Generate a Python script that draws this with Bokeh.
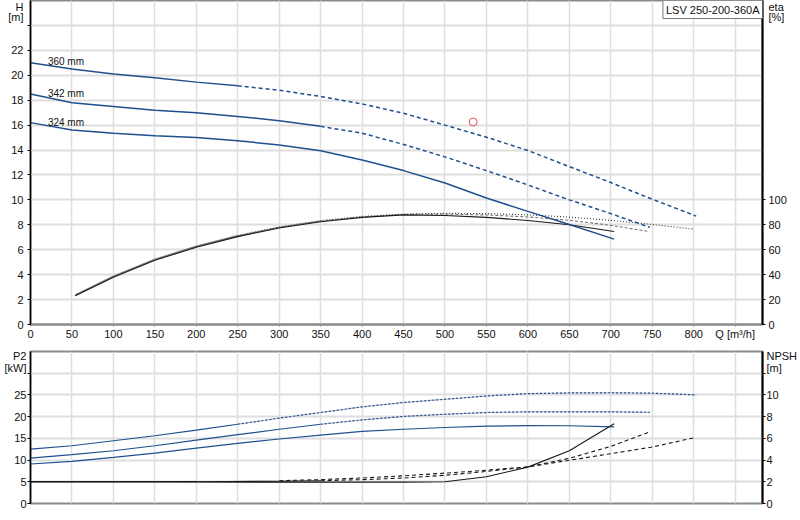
import numpy as np
from bokeh.plotting import figure
from bokeh.models import Range1d, LinearAxis, FixedTicker, Label, Grid
from bokeh.layouts import column
from bokeh.core.properties import value
from bokeh.embed import file_html
from bokeh.resources import INLINE

# ---------------- data ----------------
title_text = "LSV 250-200-360A"
diam_labels = ["360 mm", "342 mm", "324 mm"]
solid_until = [250, 350, 704]          # Q where the solid (allowed) part of each curve ends

q_h360 = [0, 50, 100, 150, 200, 250, 300, 350, 400, 450, 500, 550, 600, 650, 700, 750, 803]
h360 = [21.0, 20.5, 20.1, 19.8, 19.45, 19.15, 18.8, 18.3, 17.7, 16.95, 16.0, 15.03, 13.96, 12.67, 11.39, 10.05, 8.7]
q_h342 = [0, 50, 100, 150, 200, 250, 300, 350, 400, 450, 500, 550, 600, 650, 700, 747]
h342 = [18.5, 17.8, 17.5, 17.2, 17.0, 16.7, 16.35, 15.9, 15.35, 14.45, 13.45, 12.35, 11.2, 10.0, 8.9, 7.8]
q_h324 = [0, 50, 100, 150, 200, 250, 300, 350, 400, 450, 500, 550, 600, 650, 704]
h324 = [16.2, 15.6, 15.35, 15.15, 15.0, 14.75, 14.4, 13.95, 13.2, 12.35, 11.36, 10.15, 9.08, 8.02, 6.85]

q_eta360 = [54, 100, 150, 200, 250, 300, 350, 400, 450, 500, 550, 600, 650, 700, 750, 800]
eta360 = [23.8, 39.0, 52.5, 63.0, 71.5, 78.3, 83.4, 86.7, 88.6, 89.2, 89.0, 88.0, 86.2, 83.6, 80.3, 76.5]
q_eta342 = [54, 100, 150, 200, 250, 300, 350, 400, 450, 500, 550, 600, 650, 700, 746]
eta342 = [23.5, 38.5, 52.0, 62.5, 71.0, 78.0, 83.0, 86.4, 88.3, 88.6, 87.9, 86.3, 83.6, 79.6, 74.6]
q_eta324 = [54, 100, 150, 200, 250, 300, 350, 400, 450, 500, 550, 600, 650, 704]
eta324 = [23.0, 38.0, 51.5, 62.0, 70.5, 77.5, 82.5, 86.0, 88.0, 87.5, 86.0, 83.5, 80.0, 74.6]

q_p360 = [0, 50, 100, 150, 200, 250, 300, 350, 400, 450, 500, 550, 600, 650, 700, 750, 803]
p360 = [12.5, 13.3, 14.45, 15.6, 16.9, 18.25, 19.65, 20.95, 22.25, 23.25, 24.0, 24.75, 25.3, 25.45, 25.5, 25.4, 25.0]
q_p342 = [0, 50, 100, 150, 200, 250, 300, 350, 400, 450, 500, 550, 600, 650, 700, 747]
p342 = [10.45, 11.25, 12.15, 13.3, 14.6, 15.85, 17.1, 18.25, 19.25, 20.05, 20.55, 20.95, 21.1, 21.1, 21.1, 21.0]
q_p324 = [0, 50, 100, 150, 200, 250, 300, 350, 400, 450, 500, 550, 600, 650, 704]
p324 = [9.1, 9.7, 10.6, 11.6, 12.75, 13.85, 14.85, 15.75, 16.6, 17.1, 17.5, 17.8, 17.95, 17.9, 17.65]

q_n360 = [0, 100, 200, 300, 350, 400, 450, 500, 550, 600, 650, 700, 750, 803]
n360 = [2.0, 2.0, 2.02, 2.1, 2.2, 2.35, 2.55, 2.8, 3.07, 3.37, 3.98, 4.59, 5.2, 6.1]
q_n342 = [0, 100, 200, 300, 350, 400, 450, 500, 550, 600, 650, 700, 747]
n342 = [2.0, 2.0, 2.0, 2.05, 2.1, 2.2, 2.34, 2.6, 2.95, 3.37, 4.16, 5.26, 6.6]
q_n324 = [0, 100, 200, 300, 400, 450, 500, 550, 600, 650, 704]
n324 = [2.0, 2.0, 1.98, 1.97, 1.97, 1.97, 2.0, 2.46, 3.35, 4.85, 7.35]

duty_q = [534]
duty_h = [16.25]

q_ticks = list(range(0, 851, 50))
h_ticks = list(range(0, 25, 2))
eta_ticks = list(range(0, 101, 20))
p_ticks = list(range(0, 31, 5))
npsh_ticks = list(range(0, 13, 2))

# ---------------- style ----------------
FONT = "Liberation Sans"
BLUE = "#1f4f8f"
GRID = "#dedede"
Q_MAX, H_MAX, ETA_MAX, P_MAX, N_MAX = 883, 26, 260, 35, 14
BL, FW, BR = 30, 733, 37
W = BL + FW + BR
TOP_FH, TOP_BB = 325, 17
BOT_BT, BOT_FH, BOT_BB = 9, 152, 15


def split(q, v, lim):
    a = [(x, y) for x, y in zip(q, v) if x <= lim]
    b = [(x, y) for x, y in zip(q, v) if x >= lim]
    return ([t[0] for t in a], [t[1] for t in a]), ([t[0] for t in b], [t[1] for t in b])


def style_axis(ax, color="black", width=1.5, standoff=3):
    ax.axis_line_color = color
    ax.axis_line_width = width
    ax.major_tick_line_color = color
    ax.major_tick_in = 0
    ax.major_tick_out = 3
    ax.minor_tick_line_color = None
    ax.major_label_text_font = FONT
    ax.major_label_text_font_size = "11px"
    ax.major_label_text_color = "#111111"
    ax.major_label_standoff = standoff


def value_axis(ax, ticks, unit_labels, vmax, fh, standoff, width):
    """Ticks with labels, plus two unit texts (name, unit) placed near the top of the axis."""
    (name, off1), (unit, off2) = unit_labels
    y1 = vmax - off1 * vmax / fh
    y2 = vmax - off2 * vmax / fh
    step = ticks[1] - ticks[0]
    labelled = [t for t in ticks if t < y2 - 0.5 * step]
    ax.ticker = FixedTicker(ticks=labelled + [y2, y1], minor_ticks=ticks)
    ax.major_label_overrides = {y1: name, y2: unit}
    style_axis(ax, "black", width, standoff)
    ax.major_tick_line_color = None
    ax.minor_tick_line_color = "black"
    ax.minor_tick_in = 0
    ax.minor_tick_out = 3


# ---------------- top: H / eta ----------------
p1 = figure(width=W, height=TOP_FH + TOP_BB, x_range=Range1d(0, Q_MAX), y_range=Range1d(0, H_MAX),
            min_border_left=BL, min_border_right=BR, min_border_top=0, min_border_bottom=TOP_BB,
            output_backend="svg", toolbar_location=None)
p1.extra_y_ranges = {"eta": Range1d(0, ETA_MAX)}
p1.outline_line_color = "#8a8a8a"
p1.outline_line_width = 2
p1.background_fill_color = "white"
p1.border_fill_color = "white"

p1.xaxis.ticker = FixedTicker(ticks=q_ticks)
p1.xaxis.major_label_overrides = {850: "Q [m³/h]"}
style_axis(p1.xaxis[0], "#8a8a8a", 2, 1)
p1.xaxis.major_tick_out = 2

value_axis(p1.yaxis[0], h_ticks, [("H", 6.5), ("[m]", 17)], H_MAX, TOP_FH, 4, 1.5)

eta_axis = LinearAxis(y_range_name="eta")
value_axis(eta_axis, eta_ticks, [("eta", 6.5), ("[%]", 17)], ETA_MAX, TOP_FH, 3, 2)
p1.add_layout(eta_axis, "right")

p1.xgrid.ticker = FixedTicker(ticks=q_ticks[1:])
p1.ygrid.ticker = FixedTicker(ticks=h_ticks[1:])
p1.xgrid.grid_line_color = GRID
p1.xgrid.grid_line_width = 1.5
p1.ygrid.grid_line_color = GRID
p1.ygrid.grid_line_width = 2

# efficiency curves
eta_sets = [(q_eta360, eta360, solid_until[0], "#9a9a9a", "#333333", "1 2"),
            (q_eta342, eta342, solid_until[1], "#707070", "#777777", "3 2"),
            (q_eta324, eta324, solid_until[2], "#1a1a1a", "#1a1a1a", "")]
for q, e, lim, c1, c2, dash in eta_sets:
    (qa, ea), (qb, eb) = split(q, e, lim)
    p1.line(qa, ea, y_range_name="eta", line_color=c1, line_width=1.1)
    if len(qb) > 1:
        p1.line(qb, eb, y_range_name="eta", line_color=c2, line_width=1.1, line_dash=dash)

# H curves
for q, h, lim, lab in [(q_h360, h360, solid_until[0], diam_labels[0]),
                       (q_h342, h342, solid_until[1], diam_labels[1]),
                       (q_h324, h324, solid_until[2], diam_labels[2])]:
    (qa, ha), (qb, hb) = split(q, h, lim)
    p1.line(qa, ha, line_color=BLUE, line_width=1.5)
    if len(qb) > 1:
        p1.line(qb, hb, line_color=BLUE, line_width=1.5, line_dash="4 3")
    p1.text(x=[21], y=[float(np.interp(21, q, h)) + 0.3], text=[lab], text_font=value(FONT),
            text_font_size="10px", text_color="#111111", text_baseline="middle", text_align="left")

p1.scatter(duty_q, duty_h, marker="circle", size=8, fill_color=None, line_color="#e8505b", line_width=1)

p1.add_layout(Label(x=Q_MAX, y=H_MAX, text=title_text, text_font=FONT, text_font_size="11px",
                    text_color="#111111", text_align="right", text_baseline="top",
                    border_line_color="#777777", border_line_width=1,
                    background_fill_color="white", padding=3))

# ---------------- bottom: P2 / NPSH ----------------
p2 = figure(width=W, height=BOT_BT + BOT_FH + BOT_BB, x_range=p1.x_range, y_range=Range1d(0, P_MAX),
            x_axis_location=None,
            min_border_left=BL, min_border_right=BR, min_border_top=BOT_BT,
            min_border_bottom=BOT_BB,
            output_backend="svg", toolbar_location=None)
p2.extra_y_ranges = {"npsh": Range1d(0, N_MAX)}
p2.outline_line_color = "#8a8a8a"
p2.outline_line_width = 2

value_axis(p2.yaxis[0], p_ticks, [("P2", 4.5), ("[kW]", 16.5)], P_MAX, BOT_FH, 1, 1.5)

n_axis = LinearAxis(y_range_name="npsh")
value_axis(n_axis, npsh_ticks, [("NPSH", 4.5), ("[m]", 16.5)], N_MAX, BOT_FH, 1, 2)
p2.add_layout(n_axis, "right")

p2.ygrid.ticker = FixedTicker(ticks=p_ticks[1:])
p2.ygrid.grid_line_color = GRID
p2.ygrid.grid_line_width = 2
p2.add_layout(Grid(dimension=0, ticker=FixedTicker(ticks=q_ticks[1:]),
                   grid_line_color=GRID, grid_line_width=1.5))

for q, v, lim in [(q_p360, p360, solid_until[0]), (q_p342, p342, solid_until[1]),
                  (q_p324, p324, solid_until[2])]:
    (qa, va), (qb, vb) = split(q, v, lim)
    p2.line(qa, va, line_color=BLUE, line_width=1.2)
    if len(qb) > 1:
        p2.line(qb, vb, line_color="#b4b8c8", line_width=1)
        p2.line(qb, vb, line_color=BLUE, line_width=1.2, line_dash="2 2")

for q, v, lim in [(q_n360, n360, solid_until[0]), (q_n342, n342, solid_until[1]),
                  (q_n324, n324, solid_until[2])]:
    (qa, va), (qb, vb) = split(q, v, lim)
    p2.line(qa, va, y_range_name="npsh", line_color="#1a1a1a", line_width=1.1)
    if len(qb) > 1:
        p2.line(qb, vb, y_range_name="npsh", line_color="#1a1a1a", line_width=1.1, line_dash="4 3")

layout = column(p1, p2, spacing=0)
open("out.html", "w").write(file_html(layout, INLINE))
